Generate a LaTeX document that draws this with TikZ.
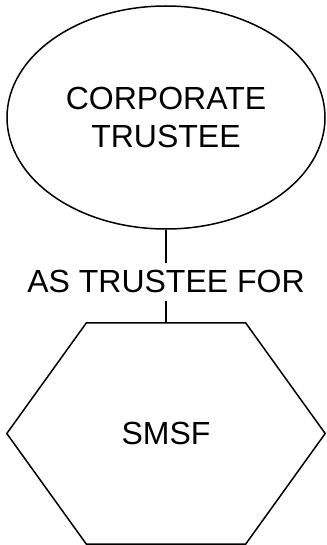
\documentclass[tikz,border=0pt]{standalone}
\usepackage{fontspec}
\setmainfont{Liberation Sans}
\usepackage{tikz}
\usetikzlibrary{shapes,positioning,calc}
\tikzstyle{link} = [line width=1.5pt, color=black]
\tikzstyle{trustee} = [ellipse, draw, line width=1.5pt, inner sep=0pt, minimum width=318pt, minimum height=223pt, align=center, font=\fontsize{32}{38.5}\selectfont]
\tikzstyle{fund} = [rectangle, inner sep=0pt, minimum width=318pt, minimum height=221pt, font=\fontsize{32}{38.5}\selectfont]
\tikzstyle{relation} = [rectangle, inner xsep=2pt, inner ysep=7.5pt, font=\fontsize{32}{38.5}\selectfont]

\begin{document}
\begin{tikzpicture}
    \useasboundingbox (0,0) rectangle (326pt,-545pt);

    % Top - trustee
    \node[trustee] (corp) at (166pt,-117.5pt) {CORPORATE\\TRUSTEE};

    % Middle - relation
    \node[relation, below=33pt of corp] (rel) {AS TRUSTEE FOR};

    % Bottom - fund
    \node[fund, below=22pt of rel] (smsf) {SMSF};
    \draw[link] (smsf.west) -- ($(smsf.north west)!0.25!(smsf.north east)$)
        -- ($(smsf.north west)!0.75!(smsf.north east)$) -- (smsf.east)
        -- ($(smsf.south west)!0.75!(smsf.south east)$)
        -- ($(smsf.south west)!0.25!(smsf.south east)$) -- cycle;

    % Connections
    \draw[link] (corp) -- (rel);
    \draw[link] (rel) -- (smsf);
\end{tikzpicture}
\end{document}
